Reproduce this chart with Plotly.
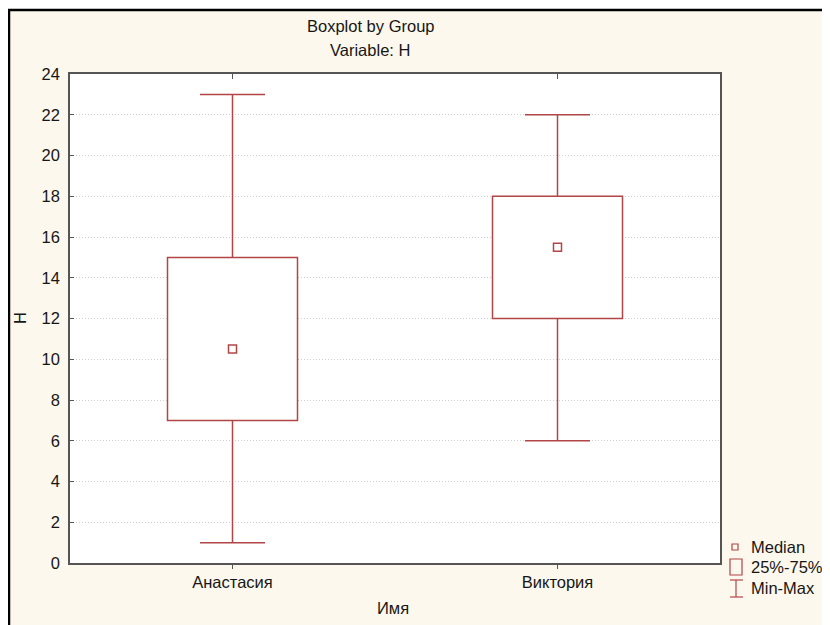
import plotly.graph_objects as go

# ---- data ----
names = ["Анастасия", "Виктория"]
mins = [1, 6]
q1s = [7, 12]
medians = [10.5, 15.5]
q3s = [15, 18]
maxs = [23, 22]
y_ticks = list(range(0, 25, 2))

W, H = 830, 625
OFF = 8  # page body margin
L, T = 70 - OFF, 74 - OFF
PW, PH = 650, 489
R = W - L - PW
B = H - T - PH

def px(xs):
    """screen x -> paper"""
    return (xs - OFF - L) / PW

def py(ys):
    """screen y -> paper"""
    return (T + PH - (ys - OFF)) / PH

RED = "#b24545"
FONT = "Liberation Sans, Arial, sans-serif"
FS = 16.5
TXT = "#161616"
xs = list(range(len(names)))
box_w = 0.4
cap_w = 0.2

fig = go.Figure()

# boxes (25%-75%)
fig.add_trace(go.Bar(
    x=xs, y=[q3 - q1 for q1, q3 in zip(q1s, q3s)], base=q1s, width=box_w,
    marker=dict(color="white", line=dict(color=RED, width=1.5)),
    showlegend=False, hoverinfo="skip"))

# whiskers and caps
wx, wy = [], []
for x, mn, q1, q3, mx in zip(xs, mins, q1s, q3s, maxs):
    wx += [x, x, None, x, x, None, x - cap_w / 2, x + cap_w / 2, None, x - cap_w / 2, x + cap_w / 2, None]
    wy += [q3, mx, None, q1, mn, None, mx, mx, None, mn, mn, None]
fig.add_trace(go.Scatter(x=wx, y=wy, mode="lines", line=dict(color=RED, width=1.5),
                         showlegend=False, hoverinfo="skip"))

# medians
fig.add_trace(go.Scatter(x=xs, y=medians, mode="markers",
                         marker=dict(symbol="square-open", size=8, color=RED, line=dict(width=1.5)),
                         showlegend=False))

shapes = [
    # outer cream panel with black top/left border
    dict(type="rect", xref="paper", yref="paper", x0=px(9), x1=px(860), y0=py(660), y1=py(10),
         fillcolor="#fdf8ed", line=dict(color="black", width=2.5), layer="below"),
    dict(type="rect", xref="paper", yref="paper", x0=0, x1=1, y0=0, y1=1,
         fillcolor="white", line=dict(width=0), layer="below"),
    # legend icons
    dict(type="rect", xref="paper", yref="paper", x0=px(732), x1=px(738), y0=py(550), y1=py(544),
         line=dict(color=RED, width=1.2), fillcolor="rgba(0,0,0,0)"),
    dict(type="rect", xref="paper", yref="paper", x0=px(730), x1=px(742), y0=py(575), y1=py(559),
         line=dict(color=RED, width=1.2), fillcolor="rgba(0,0,0,0)"),
    dict(type="line", xref="paper", yref="paper", x0=px(736), x1=px(736), y0=py(597), y1=py(580),
         line=dict(color=RED, width=1.2)),
    dict(type="line", xref="paper", yref="paper", x0=px(730), x1=px(743), y0=py(580), y1=py(580),
         line=dict(color=RED, width=1.2)),
    dict(type="line", xref="paper", yref="paper", x0=px(730), x1=px(743), y0=py(597), y1=py(597),
         line=dict(color=RED, width=1.2)),
]
# top mirror ticks (inside)
for x in xs:
    shapes.append(dict(type="line", xref="x", yref="paper", x0=x, x1=x, y0=1, y1=py(74 + 5),
                       line=dict(color="#555", width=1)))

def ann(text, x, y, xanchor="center", angle=0):
    return dict(text=text, x=px(x), y=py(y), xref="paper", yref="paper", xanchor=xanchor,
                yanchor="middle", textangle=angle, showarrow=False,
                font=dict(size=FS, color=TXT, family=FONT))

annotations = [
    ann("Boxplot by Group", 371, 26),
    ann("Variable: H", 370, 50),
    ann("Median", 749, 547, "left"),
    ann("25%-75%", 749, 567, "left"),
    ann("Min-Max", 749, 588, "left"),
    ann("Имя", 393, 608),
    ann("H", 20, 318, angle=-90),
]

fig.update_layout(
    width=W, height=H,
    margin=dict(l=L, r=R, t=T, b=B, pad=0),
    paper_bgcolor="white", plot_bgcolor="white",
    font=dict(family=FONT, size=FS, color=TXT),
    shapes=shapes, annotations=annotations,
    showlegend=False,
    xaxis=dict(range=[-0.5, 1.5], tickvals=xs, ticktext=names, showgrid=False, zeroline=False,
               showline=True, linecolor="#555", linewidth=1.5, mirror=True,
               ticks="outside", ticklen=4, tickcolor="#555", ticklabelstandoff=-1),
    yaxis=dict(range=[0, 24], tickvals=y_ticks, showgrid=True, gridcolor="#cfcfcf", griddash="1px,2px",
               gridwidth=1, zeroline=False, showline=True, linecolor="#555", linewidth=1.5,
               mirror=True, ticks="inside", ticklen=4, tickcolor="#555", ticklabelstandoff=5),
)

fig.write_html("out.html")
